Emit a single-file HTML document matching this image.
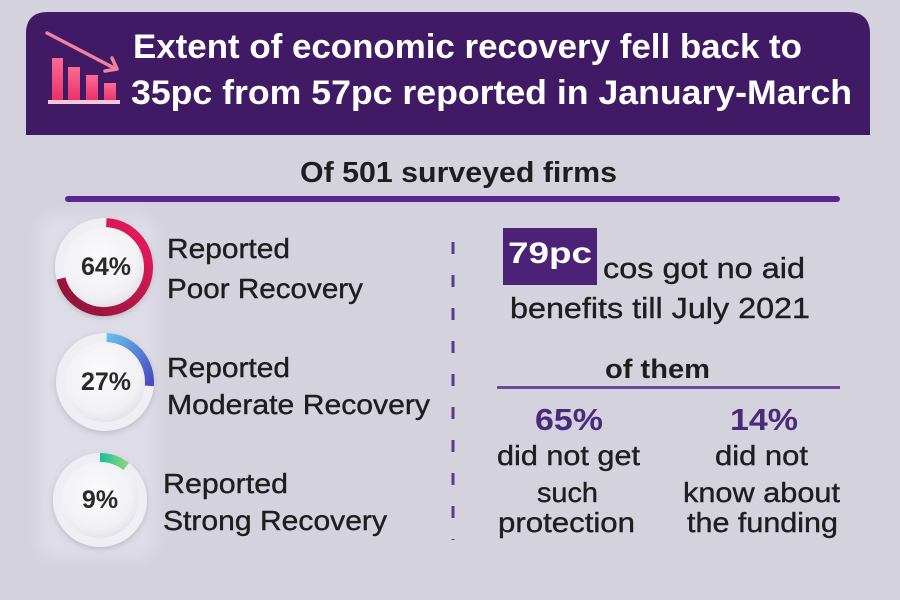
<!DOCTYPE html>
<html><head><meta charset="utf-8"><style>
html,body{margin:0;padding:0;background:#d4d2dd;}
svg{display:block;}
text{font-family:"Liberation Sans",Arial,sans-serif;}
</style></head><body>
<svg width="900" height="600" viewBox="0 0 900 600" xmlns="http://www.w3.org/2000/svg">
<defs>
  <linearGradient id="bar" x1="0" y1="0" x2="0" y2="1"><stop offset="0" stop-color="#ff6a92"/><stop offset="1" stop-color="#e83068"/></linearGradient>
  <linearGradient id="g1" x1="1" y1="0" x2="0" y2="1"><stop offset="0" stop-color="#ee1a60"/><stop offset="1" stop-color="#861434"/></linearGradient>
  <linearGradient id="g2" x1="0" y1="0" x2="1" y2="1"><stop offset="0" stop-color="#66c0ea"/><stop offset="1" stop-color="#4848c0"/></linearGradient>
  <linearGradient id="g3" x1="0" y1="0" x2="1" y2="0"><stop offset="0" stop-color="#18bfa0"/><stop offset="1" stop-color="#8ad47e"/></linearGradient>
  <radialGradient id="disc" cx="0.45" cy="0.4" r="0.6"><stop offset="0" stop-color="#fbfbfc"/><stop offset="0.8" stop-color="#f1f1f4"/><stop offset="1" stop-color="#e4e3ea"/></radialGradient>
  <filter id="blur" x="-20%" y="-20%" width="140%" height="140%"><feGaussianBlur stdDeviation="6"/></filter>
  <filter id="sh" x="-30%" y="-30%" width="160%" height="160%"><feDropShadow dx="0" dy="2" stdDeviation="3" flood-color="#9a98a8" flood-opacity="0.5"/></filter>
</defs>
<rect width="900" height="600" fill="#d4d2dd"/>

<!-- header -->
<path d="M26,135 V34 Q26,12 48,12 H848 Q870,12 870,34 V135 Z" fill="#411a66"/>
<!-- icon -->
<rect x="52" y="58" width="11" height="43" fill="url(#bar)"/>
<rect x="68" y="67" width="12" height="34" fill="url(#bar)"/>
<rect x="86" y="75" width="12" height="26" fill="url(#bar)"/>
<rect x="104" y="83" width="12" height="18" fill="url(#bar)"/>
<rect x="48" y="100" width="72" height="4" fill="#f6c8d8"/>
<line x1="47" y1="33" x2="116" y2="69" stroke="#f2809f" stroke-width="3.5" stroke-linecap="round"/>
<polyline points="105,71 117,69 112,58" fill="none" stroke="#f2809f" stroke-width="3.5" stroke-linecap="round" stroke-linejoin="round"/>
<text x="133" y="58" font-size="34" font-weight="bold" fill="#ffffff" textLength="669" lengthAdjust="spacingAndGlyphs">Extent of economic recovery fell back to</text>
<text x="131" y="104" font-size="34" font-weight="bold" fill="#ffffff" textLength="721" lengthAdjust="spacingAndGlyphs">35pc from 57pc reported in January-March</text>

<!-- subtitle -->
<text x="300" y="182" font-size="29" font-weight="bold" fill="#1e1e1e" textLength="317" lengthAdjust="spacingAndGlyphs">Of 501 surveyed firms</text>
<rect x="65" y="196" width="775" height="6" rx="3" fill="#5a2590"/>

<!-- lighter panel behind donuts -->
<rect x="38" y="214" width="118" height="345" rx="20" fill="#dedce6" filter="url(#blur)"/>

<!-- donut 1 -->
<circle cx="104" cy="267" r="49" fill="#efeef3" filter="url(#sh)"/>
<circle cx="104" cy="267" r="40" fill="url(#disc)"/>
<path d="M106.3,222.6 A44.5,44.5 0 1 1 61,278.5" fill="none" stroke="url(#g1)" stroke-width="9"/>
<text x="106" y="275" font-size="25" font-weight="bold" fill="#2a2a2a" text-anchor="middle">64%</text>

<!-- donut 2 -->
<circle cx="105" cy="382" r="49" fill="#efeef3" filter="url(#sh)"/>
<circle cx="105" cy="382" r="40" fill="url(#disc)"/>
<path d="M106.6,337.5 A44.5,44.5 0 0 1 149.3,385.9" fill="none" stroke="url(#g2)" stroke-width="9"/>
<text x="106" y="390" font-size="25" font-weight="bold" fill="#2a2a2a" text-anchor="middle">27%</text>

<!-- donut 3 -->
<circle cx="100" cy="500" r="47" fill="#efeef3" filter="url(#sh)"/>
<circle cx="100" cy="500" r="38" fill="url(#disc)"/>
<path d="M100,457.5 A42.5,42.5 0 0 1 126.2,466.5" fill="none" stroke="url(#g3)" stroke-width="9"/>
<text x="100" y="508" font-size="25" font-weight="bold" fill="#2a2a2a" text-anchor="middle">9%</text>

<!-- labels -->
<g font-size="28" fill="#1e1e1e" stroke="#1e1e1e" stroke-width="0.4">
<text x="167" y="258" textLength="123" lengthAdjust="spacingAndGlyphs">Reported</text>
<text x="167" y="298" textLength="196" lengthAdjust="spacingAndGlyphs">Poor Recovery</text>
<text x="167" y="377" textLength="123" lengthAdjust="spacingAndGlyphs">Reported</text>
<text x="167" y="414" textLength="263" lengthAdjust="spacingAndGlyphs">Moderate Recovery</text>
<text x="163" y="493" textLength="125" lengthAdjust="spacingAndGlyphs">Reported</text>
<text x="163" y="530" textLength="224" lengthAdjust="spacingAndGlyphs">Strong Recovery</text>
</g>

<!-- dashed divider -->
<line x1="453" y1="242" x2="453" y2="540" stroke="#5a3a8a" stroke-width="3" stroke-dasharray="12 21"/>

<!-- right side -->
<rect x="503" y="228" width="94" height="57" fill="#4b2275"/>
<text x="508" y="263" font-size="30" font-weight="bold" fill="#ffffff" textLength="84" lengthAdjust="spacingAndGlyphs">79pc</text>
<g font-size="29" fill="#1e1e1e" stroke="#1e1e1e" stroke-width="0.4">
<text x="603" y="278" textLength="202" lengthAdjust="spacingAndGlyphs">cos got no aid</text>
<text x="510" y="318" textLength="300" lengthAdjust="spacingAndGlyphs">benefits till July 2021</text>
</g>
<text x="605" y="378" font-size="27" font-weight="bold" fill="#1e1e1e" textLength="105" lengthAdjust="spacingAndGlyphs">of them</text>
<rect x="497" y="386" width="343" height="3" fill="#6a4a9a"/>
<text x="535" y="430" font-size="31" font-weight="bold" fill="#4a2a7a" textLength="68" lengthAdjust="spacingAndGlyphs">65%</text>
<text x="730" y="430" font-size="31" font-weight="bold" fill="#4a2a7a" textLength="68" lengthAdjust="spacingAndGlyphs">14%</text>
<g font-size="28" fill="#1e1e1e" stroke="#1e1e1e" stroke-width="0.4">
<text x="497" y="465" textLength="143" lengthAdjust="spacingAndGlyphs">did not get</text>
<text x="537" y="502" textLength="61" lengthAdjust="spacingAndGlyphs">such</text>
<text x="498" y="532" textLength="137" lengthAdjust="spacingAndGlyphs">protection</text>
<text x="715" y="465" textLength="93" lengthAdjust="spacingAndGlyphs">did not</text>
<text x="683" y="502" textLength="157" lengthAdjust="spacingAndGlyphs">know about</text>
<text x="687" y="532" textLength="151" lengthAdjust="spacingAndGlyphs">the funding</text>
</g>
</svg>
</body></html>
